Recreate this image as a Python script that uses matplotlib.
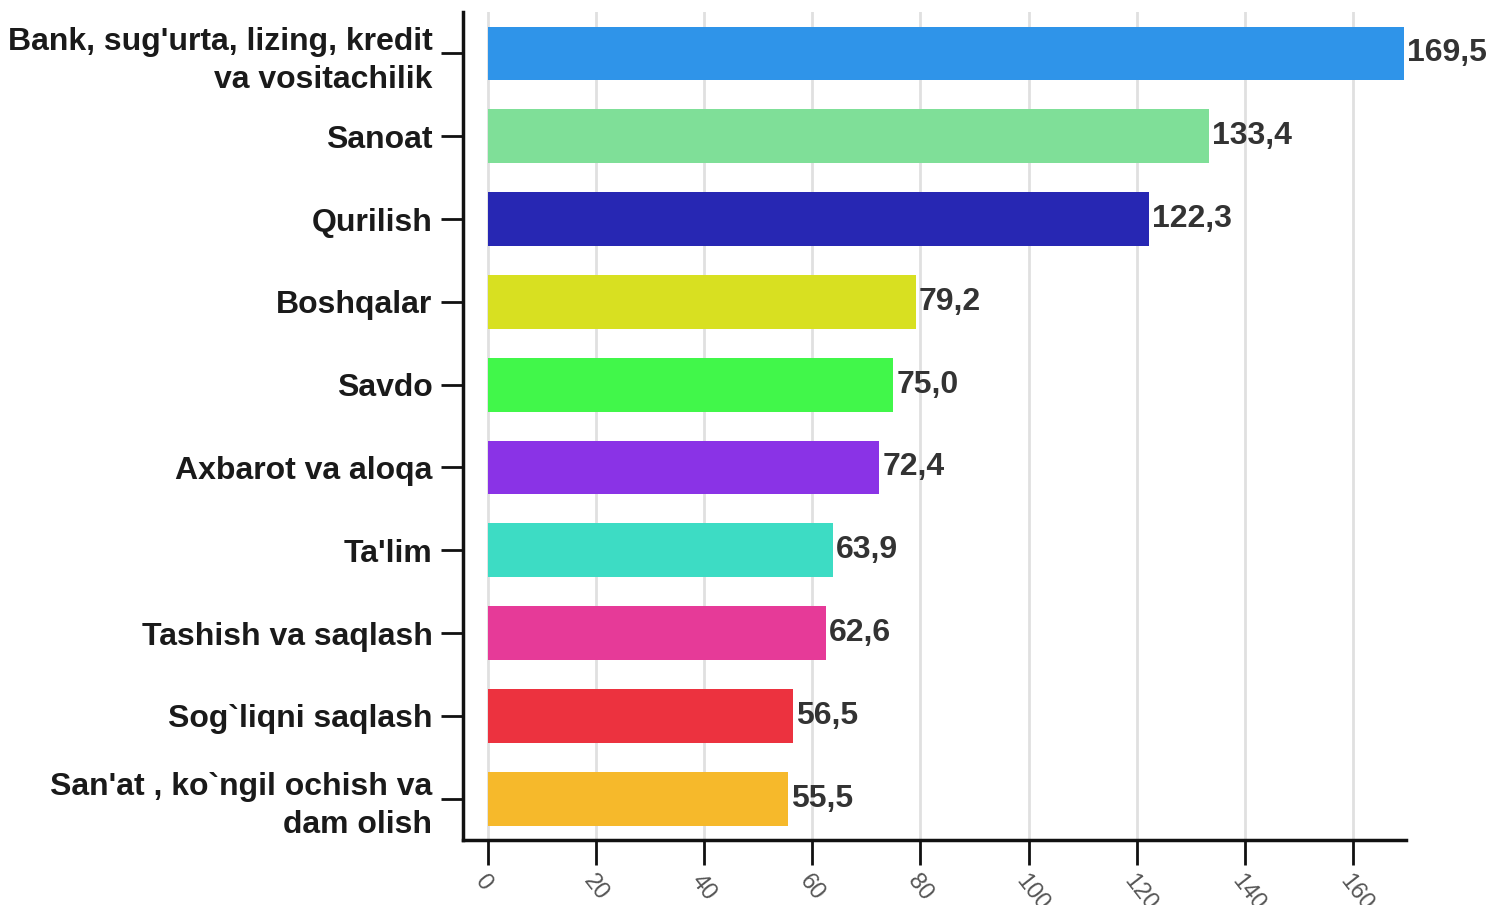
import numpy as np
import matplotlib.pyplot as plt

categories = [
    "Bank, sug'urta, lizing, kredit\nva vositachilik",
    "Sanoat",
    "Qurilish",
    "Boshqalar",
    "Savdo",
    "Axbarot va aloqa",
    "Ta'lim",
    "Tashish va saqlash",
    "Sog`liqni saqlash",
    "San'at , ko`ngil ochish va\ndam olish",
]
values = [169.5, 133.4, 122.3, 79.2, 75.0, 72.4, 63.9, 62.6, 56.5, 55.5]
colors = ["#2f94e9", "#7fdf98", "#2727b3", "#d8e021", "#41f74a",
          "#8a33e6", "#3ddcc4", "#e63a98", "#ec323f", "#f6b92b"]
xticks = [0, 20, 40, 60, 80, 100, 120, 140, 160]

plt.rcParams['font.family'] = ['Liberation Sans', 'DejaVu Sans']

fig = plt.figure(figsize=(14.97, 9.05), dpi=100)
ax = fig.add_axes([0.3093, 0.0718, 0.9392 - 0.3093, 0.9867 - 0.0718])

y = np.arange(len(categories))
ax.barh(y, values, height=0.65, color=colors, zorder=2)

for yi, v in zip(y, values):
    ax.annotate(f"{v:.1f}".replace('.', ','), (v, yi), xytext=(2, 0),
                textcoords='offset points', ha='left', va='center',
                fontsize=23, fontweight='bold', color='#333333')

ax.set_ylim(len(categories) - 0.5, -0.5)
ax.set_xlim(-4.6, 169.8)
ax.set_yticks(y)
ax.set_yticklabels(categories, fontsize=23, fontweight='bold', color='#1a1a1a',
                   linespacing=1.35)
ax.set_xticks(xticks)
ax.set_xticklabels([str(t) for t in xticks], fontsize=17,
                   color='#555555', rotation=-52, ha='left', va='top',
                   rotation_mode='anchor')

ax.tick_params(axis='y', length=16, width=2, color='#111111', pad=6)
ax.tick_params(axis='x', length=18, width=2, color='#111111', pad=4)

ax.grid(axis='x', color='#e0e0e0', linewidth=2, zorder=0)
ax.set_axisbelow(True)
for s in ['top', 'right']:
    ax.spines[s].set_visible(False)
for s in ['left', 'bottom']:
    ax.spines[s].set_linewidth(2.5)
    ax.spines[s].set_color('#111111')

fig.savefig('out.png', dpi=100)
